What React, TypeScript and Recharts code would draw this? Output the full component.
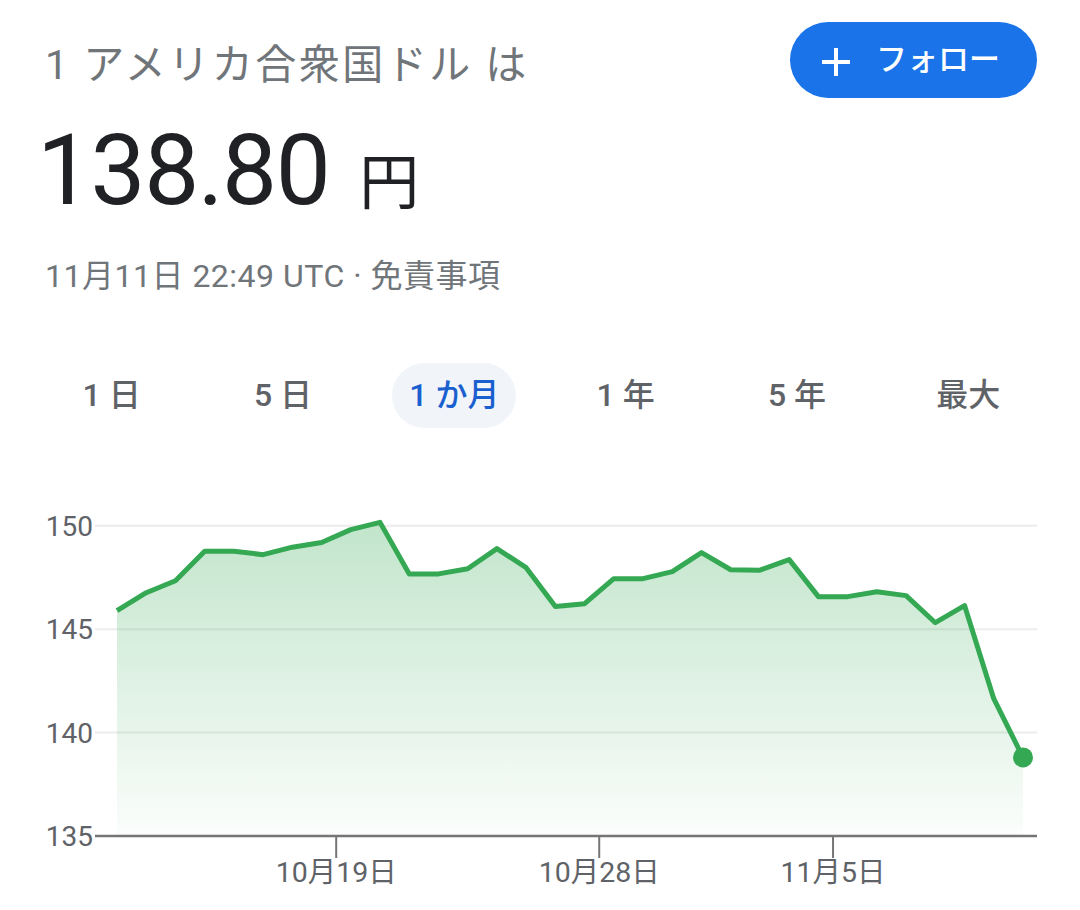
import {Area, AreaChart, CartesianGrid, XAxis, YAxis} from "recharts";

const FONT = "Roboto, 'Noto Sans CJK JP', sans-serif";
const GREEN = '#34a853';
const GRAY = '#5f6368';

// daily quotes, USD -> JPY
const dates = [
    '2022-10-11', '2022-10-12', '2022-10-13', '2022-10-14', '2022-10-15', '2022-10-16', '2022-10-17', '2022-10-18',
    '2022-10-19', '2022-10-20', '2022-10-21', '2022-10-22', '2022-10-23', '2022-10-24', '2022-10-25', '2022-10-26',
    '2022-10-27', '2022-10-28', '2022-10-29', '2022-10-30', '2022-10-31', '2022-11-01', '2022-11-02', '2022-11-03',
    '2022-11-04', '2022-11-05', '2022-11-06', '2022-11-07', '2022-11-08', '2022-11-09', '2022-11-10', '2022-11-11',
];
const rates = [
    145.89, 146.76, 147.34, 148.76, 148.76, 148.60, 148.96, 149.19,
    149.81, 150.16, 147.66, 147.67, 147.92, 148.89, 147.97, 146.09,
    146.23, 147.44, 147.44, 147.78, 148.70, 147.87, 147.85, 148.36,
    146.57, 146.57, 146.81, 146.62, 145.31, 146.14, 141.64, 138.80,
];
const xTickDates = ['2022-10-19', '2022-10-28', '2022-11-05'];
const yTicks = [135, 140, 145, 150];
const ranges = ['1 日', '5 日', '1 か月', '1 年', '5 年', '最大'];
const selectedRange = '1 か月';

const title = '1 アメリカ合衆国ドル は';
const price = '138.80';
const unit = '円';
const updated = '11月11日 22:49 UTC · 免責事項';
const followLabel = 'フォロー';

const data = dates.map((d, i) => ({t: Date.parse(d + 'T12:00:00Z'), v: rates[i]}));
const xTicks = xTickDates.map(d => Date.parse(d + 'T00:00:00Z'));
const yMin = yTicks[0];

const fmtDate = (t: number) => {
    const d = new Date(t);
    return `${d.getUTCMonth() + 1}月${d.getUTCDate()}日`;
};

export default function App() {
    return (
        <div style={{position: 'absolute', left: 0, top: 0, width: 1080, height: 910, background: '#fff', fontFamily: FONT, overflow: 'hidden'}}>
            <div style={{position: 'absolute', left: 45, top: 45, fontSize: 41, lineHeight: '41px', letterSpacing: 2.5, color: '#70757a', whiteSpace: 'nowrap'}}>
                {title}
            </div>

            <div style={{position: 'absolute', left: 790, top: 22, width: 247, height: 76, borderRadius: 38, background: '#1a73e8', color: '#fff'}}>
                <svg width={30} height={30} style={{position: 'absolute', left: 31, top: 25}}>
                    <line x1={15} y1={1} x2={15} y2={29} stroke='#fff' strokeWidth={4}/>
                    <line x1={1} y1={15} x2={29} y2={15} stroke='#fff' strokeWidth={4}/>
                </svg>
                <span style={{position: 'absolute', left: 86, top: 22, fontSize: 31, lineHeight: '31px', fontWeight: 500, whiteSpace: 'nowrap'}}>
                    {followLabel}
                </span>
            </div>

            <div style={{position: 'absolute', left: 37, top: 122, lineHeight: '98px', whiteSpace: 'nowrap', color: '#202124'}}>
                <span style={{fontSize: 98, letterSpacing: -1.5}}>{price}</span>
                <span style={{fontSize: 60, marginLeft: 30}}>{unit}</span>
            </div>

            <div style={{position: 'absolute', left: 45, top: 260, fontSize: 32, lineHeight: '32px', letterSpacing: 0.5, color: '#70757a', whiteSpace: 'nowrap'}}>
                {updated}
            </div>

            <div style={{position: 'absolute', left: 26, top: 363, width: 1028, height: 65, display: 'flex'}}>
                {ranges.map(r => (
                    <div key={r} style={{flex: 1, display: 'flex', justifyContent: 'center', alignItems: 'center'}}>
                        <div style={{
                            padding: '0 17px 7px', boxSizing: 'border-box', height: 65, borderRadius: 33, display: 'flex', alignItems: 'center',
                            fontSize: 32, fontWeight: 500, whiteSpace: 'nowrap',
                            background: r === selectedRange ? '#f1f4f9' : 'transparent',
                            color: r === selectedRange ? '#1a5fd0' : GRAY,
                        }}>{r}</div>
                    </div>
                ))}
            </div>

            <div style={{position: 'absolute', left: 0, top: 480}}>
                <AreaChart width={1080} height={420} data={data} margin={{top: 25, right: 43, left: 0, bottom: 0}}>
                    <defs>
                        <linearGradient id='fillGreen' x1='0' y1='0' x2='0' y2='1'>
                            <stop offset='0%' stopColor={GREEN} stopOpacity={0.3}/>
                            <stop offset='100%' stopColor={GREEN} stopOpacity={0.02}/>
                        </linearGradient>
                    </defs>
                    <CartesianGrid vertical={false} horizontalValues={yTicks.filter(v => v > yMin)} stroke='#ececec' strokeWidth={2}/>
                    <XAxis
                        dataKey='t'
                        type='number'
                        domain={['dataMin', 'dataMax']}
                        ticks={xTicks}
                        padding={{left: 22, right: 14}}
                        tickFormatter={fmtDate}
                        height={64}
                        tickSize={22}
                        tickMargin={4}
                        axisLine={{stroke: '#757575', strokeWidth: 2.5}}
                        tickLine={{stroke: '#757575', strokeWidth: 2}}
                        tick={{fill: GRAY, fontSize: 28.5, fontFamily: FONT}}
                    />
                    <YAxis
                        domain={[yMin, 151]}
                        ticks={yTicks}
                        width={95}
                        axisLine={false}
                        tickLine={false}
                        tickSize={0}
                        tickMargin={2}
                        tick={{fill: GRAY, fontSize: 28, fontFamily: FONT}}
                    />
                    <Area
                        type='linear'
                        dataKey='v'
                        stroke={GREEN}
                        strokeWidth={5}
                        strokeLinejoin='round'
                        fill='url(#fillGreen)'
                        fillOpacity={1}
                        isAnimationActive={false}
                        activeDot={false}
                        dot={(p: any) => p.index === data.length - 1
                            ? <circle key={p.index} cx={p.cx} cy={p.cy} r={10} fill={GREEN}/>
                            : <g key={p.index}/>}
                    />
                </AreaChart>
            </div>
        </div>
    );
}
